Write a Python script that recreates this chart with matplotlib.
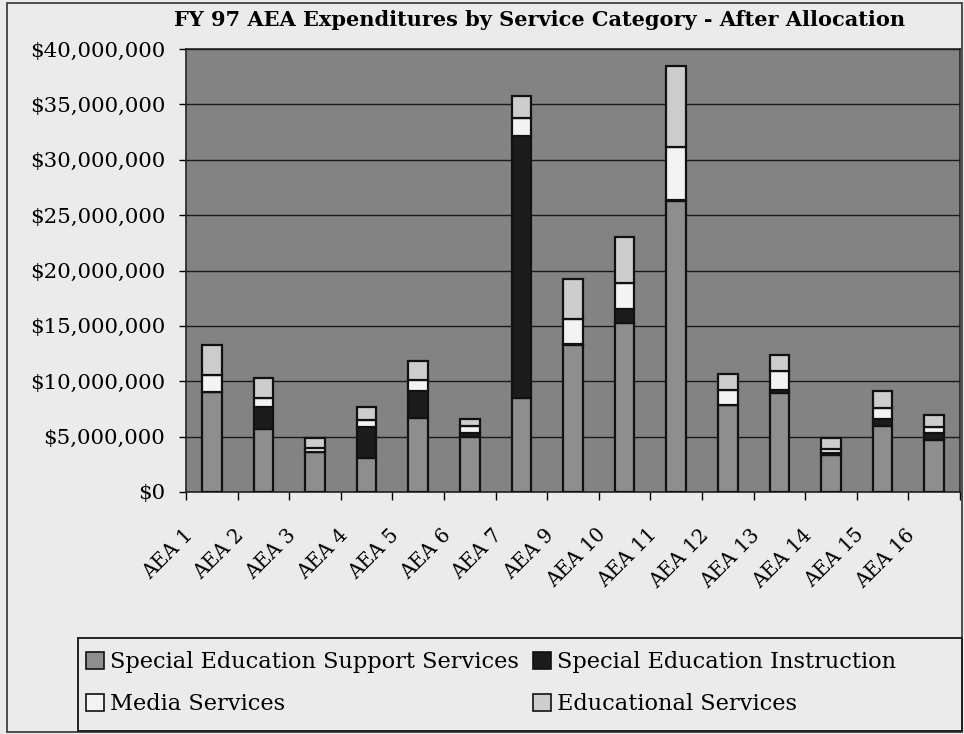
import numpy as np
import matplotlib.pyplot as plt
from matplotlib.patches import Rectangle, Patch
from matplotlib.ticker import FuncFormatter, MultipleLocator, FixedLocator
from matplotlib.transforms import ScaledTranslation

plt.rcParams['font.family'] = ['DejaVu Serif']

aeas = ['AEA 1', 'AEA 2', 'AEA 3', 'AEA 4', 'AEA 5', 'AEA 6', 'AEA 7', 'AEA 9',
        'AEA 10', 'AEA 11', 'AEA 12', 'AEA 13', 'AEA 14', 'AEA 15', 'AEA 16']

# values in millions of dollars
support = [9.0, 5.66, 3.6, 3.04, 6.7, 5.0, 8.45, 13.27, 15.3, 26.3, 7.85, 8.95, 3.35, 6.0, 4.7]
instruction = [0.05, 2.0, 0.05, 2.86, 2.4, 0.3, 23.65, 0.05, 1.2, 0.05, 0.05, 0.25, 0.2, 0.6, 0.6]
media = [1.5, 0.85, 0.3, 0.6, 1.0, 0.7, 1.7, 2.33, 2.4, 4.8, 1.35, 1.75, 0.3, 1.0, 0.55]
educational = [2.7, 1.75, 0.95, 1.15, 1.75, 0.6, 2.0, 3.6, 4.1, 7.35, 1.4, 1.45, 1.0, 1.55, 1.1]

series = ['Special Education Support Services', 'Special Education Instruction',
          'Media Services', 'Educational Services']
colors = ['#8e8e8e', '#1c1c1c', '#f3f3f3', '#cdcdcd']

paper = '#ebebeb'
fig = plt.figure(figsize=(9.64, 7.34), dpi=100, facecolor=paper)
W, H = 964.0, 734.0
ax = fig.add_axes([186 / W, 1 - 492 / H, 774 / W, 443 / H])
ax.set_facecolor('#838383')

x = np.arange(len(aeas))
bottom = np.zeros(len(aeas))
for vals, col in zip([support, instruction, media, educational], colors):
    v = np.array(vals) * 1e6
    ax.bar(x, v, 0.38, bottom=bottom, color=col, edgecolor='#111111', linewidth=1.6, zorder=3)
    bottom += v

ax.set_xlim(-0.5, len(aeas) - 0.5)
ax.set_ylim(0, 40e6)
ax.yaxis.set_major_locator(MultipleLocator(5e6))
ax.yaxis.set_major_formatter(FuncFormatter(lambda v, p: '${:,.0f}'.format(v)))
ax.grid(axis='y', color='#1a1a1a', linewidth=1.0, zorder=1)
ax.set_axisbelow(True)
ax.tick_params(axis='y', direction='out', length=5, width=1, labelsize=15.4, pad=10)

ax.set_xticks(x)
ax.set_xticklabels(aeas, rotation=45, ha='right', va='center', rotation_mode='anchor', fontsize=14.2)
ax.tick_params(axis='x', which='major', length=0, pad=0)
ax.xaxis.set_minor_locator(FixedLocator(np.arange(-0.5, len(aeas), 1.0)))
ax.tick_params(axis='x', which='minor', direction='out', length=6, width=1)
shift = ScaledTranslation(-22 / 100, -40 / 100, fig.dpi_scale_trans)
for lab in ax.get_xticklabels():
    lab.set_transform(lab.get_transform() + shift)

for s in ax.spines.values():
    s.set_color('#222222')
    s.set_linewidth(1.2)

fig.text(540 / W, 1 - 20 / H, 'FY 97 AEA Expenditures by Service Category - After Allocation',
         ha='center', va='center', fontsize=15, fontweight='bold')

# outer frame and legend box
fig.patches.append(Rectangle((7 / W, 2 / H), 955 / W, 729 / H, transform=fig.transFigure,
                             fill=False, edgecolor='#333333', linewidth=1.2))
fig.patches.append(Rectangle((78 / W, 1 - 731 / H), 884 / W, 93 / H, transform=fig.transFigure,
                             fill=False, edgecolor='#222222', linewidth=1.4))

handles = [Patch(facecolor=c, edgecolor='#111111', linewidth=1.2) for c in colors]
legkw = dict(loc='upper left', frameon=False, fontsize=16.2, handlelength=0.8, handleheight=0.8,
             handletextpad=0.25, labelspacing=0.9, borderpad=0, borderaxespad=0)
fig.legend([handles[0], handles[2]], [series[0], series[2]],
           bbox_to_anchor=(86 / W, 1 - 651 / H), **legkw)
fig.legend([handles[1], handles[3]], [series[1], series[3]],
           bbox_to_anchor=(533 / W, 1 - 651 / H), **legkw)

fig.savefig('out.png', dpi=100, facecolor=paper)
